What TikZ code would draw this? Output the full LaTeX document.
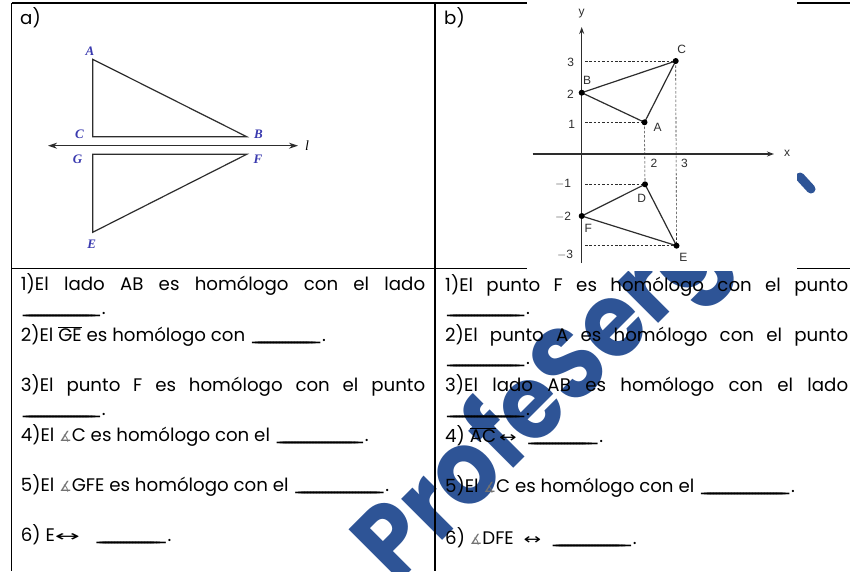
\documentclass[tikz,border=0pt]{standalone}
\usepackage{graphicx}
\usepackage{fontspec}
\setmainfont{Poppins}
\newfontfamily\symfont{DejaVu Sans}
\newfontfamily\grfont{Liberation Sans}
\newfontfamily\tmfont{Liberation Serif}
\usetikzlibrary{arrows.meta}
\definecolor{wmblue}{RGB}{46,84,150}
\definecolor{lblblue}{RGB}{58,58,175}
\definecolor{grdark}{RGB}{45,45,45}
\newcommand\blk[1]{\hbox to #1{\leaders\hbox to 3pt{\_\hss}\hfill\_}}
\newcommand\angsym{{\symfont\fontsize{14}{14}\selectfont\color{black!55}∡}}
\newcommand\lrsym[1]{\scalebox{#1}[1]{\symfont\fontsize{15}{15}\selectfont ↔}}
\newcommand\ovl[1]{$\overline{\hbox{#1}}$}
\begin{document}
\begin{tikzpicture}[x=1pt,y=-1pt,
  tline/.style={line width=1.1pt, black},
  txt/.style={anchor=base west, inner sep=0pt, font=\fontsize{18.2}{21}\selectfont},
  seg/.style={line width=1.2pt, grdark},
  dsh/.style={line width=0.6pt, grdark, dash pattern=on 2.5pt off 1.8pt},
  dot/.style={circle, fill=black, inner sep=0pt, minimum size=6pt},
  glbl/.style={inner sep=0pt, text=grdark, font=\grfont\fontsize{12}{12}\selectfont},
  albl/.style={inner sep=0pt, text=lblblue, font=\tmfont\itshape\bfseries\fontsize{13}{13}\selectfont},
  wmark/.style={inner sep=0pt, text=wmblue, rotate=45, xscale=0.9, font=\fontsize{104}{104}\selectfont\bfseries}
]
\useasboundingbox (0,0) rectangle (850,571);
\fill[white] (0,0) rectangle (850,571);

% watermark
\node[wmark] (wm) at (574,370) {ProfeSergio};
\coordinate (wt1) at (800,177);
\coordinate (wt2) at (811,189);
\draw[wmblue, line width=9pt, line cap=round] (wt1) -- (wt2);

% table lines
\coordinate (tl) at (11.5,3);
\coordinate (tr) at (850,3);
\coordinate (bl) at (11.5,571);
\coordinate (mt) at (435,3);
\coordinate (mb) at (435,571);
\coordinate (dl) at (11.5,268.5);
\coordinate (dr) at (850,268.5);
\draw[tline] (tl) -- (tr);
\draw[tline] (tl) -- (bl);
\draw[tline] (mt) -- (mb);
\draw[tline] (dl) -- (dr);

% panel a
\node[txt] (pa) at (20,24) {a)};
\coordinate (aA) at (92.7,59.3);
\coordinate (aC) at (92.7,136.7);
\coordinate (aB) at (246.7,136.7);
\coordinate (aG) at (92.7,154.3);
\coordinate (aF) at (246.7,154.3);
\coordinate (aE) at (92.7,232.3);
\coordinate (l1e) at (48,145.7);
\coordinate (l2e) at (298,145.7);
\draw[seg] (aA) -- (aC) -- (aB) -- cycle;
\draw[seg] (aG) -- (aF) -- (aE) -- cycle;
\draw[line width=1.1pt, grdark, {Stealth[length=9pt,width=6pt]}-{Stealth[length=9pt,width=6pt]}] (l1e) -- (l2e);
\node[albl] (labA) at (90,51) {A};
\node[albl] (labC) at (79.5,134.5) {C};
\node[albl] (labB) at (258.5,134.5) {B};
\node[albl] (labG) at (77.5,159) {G};
\node[albl] (labF) at (258,159) {F};
\node[albl] (labE) at (91.7,244) {E};
\node[inner sep=0pt, text=black, font=\tmfont\itshape\fontsize{14}{14}\selectfont] (labl) at (307,146) {l};

% panel b
\node[txt] (pb) at (444,24) {b)};
\fill[white] (527,-1) rectangle (797,270.5);
\coordinate (O) at (581.7,154);
\coordinate (yb) at (581.7,263);
\coordinate (yt) at (581.7,27);
\coordinate (xl) at (532.7,154);
\coordinate (xr) at (774,154);
\coordinate (bC) at (675.7,61);
\coordinate (bB) at (581.7,92.7);
\coordinate (bA) at (644.5,122.3);
\coordinate (bD) at (645,184.3);
\coordinate (bF) at (581.7,216);
\coordinate (bE) at (676.5,245.7);
\coordinate (yC) at (585,61);
\coordinate (yA) at (585,122.3);
\coordinate (yD) at (585,184.3);
\coordinate (yE) at (585,245.7);
\draw[dsh] (yC) -- (bC);
\draw[dsh] (yA) -- (bA);
\draw[dsh] (yD) -- (bD);
\draw[dsh] (yE) -- (bE);
\draw[dsh] (bC) -- (bE);
\draw[dsh] (bA) -- (bD);
\draw[line width=1.3pt, grdark, -{Stealth[length=7pt,width=5pt]}] (yb) -- (yt);
\draw[line width=1.3pt, grdark, -{Stealth[length=7pt,width=5pt]}] (xl) -- (xr);
\draw[seg] (bB) -- (bC) -- (bA) -- cycle;
\draw[seg] (bF) -- (bD) -- (bE) -- cycle;
\foreach \p in {bA,bB,bC,bD,bE,bF} \node[dot] at (\p) {};
\node[glbl] (ly) at (581.7,13.5) {y};
\node[glbl] (lx) at (787,153) {x};
\node[glbl] (t3) at (570.7,62.7) {3};
\node[glbl] (t2) at (570.5,94) {2};
\node[glbl] (t1) at (571.7,124) {1};
\node[glbl] (tm1) at (563,184.3) {$-$1};
\node[glbl] (tm2) at (563,216.5) {$-$2};
\node[glbl] (tm3) at (565,255) {$-$3};
\node[glbl] (tx2) at (654,163.3) {2};
\node[glbl] (tx3) at (684.5,163.3) {3};
\node[glbl] (nC) at (681.7,49.3) {C};
\node[glbl] (nB) at (587,80) {B};
\node[glbl] (nA) at (657.7,127.3) {A};
\node[glbl] (nD) at (641.7,198.3) {D};
\node[glbl] (nF) at (588.3,228.3) {F};
\node[glbl] (nE) at (683.3,257.7) {E};

% left column text
\node[txt] (L1) at (20.7,290) {\hbox to 404.3pt{1)El\hfill lado\hfill AB\hfill es\hfill homólogo\hfill con\hfill el\hfill lado}};
\node[txt] (L2) at (20.7,314) {\blk{81pt}.};
\node[txt] (L3) at (20.7,341) {2)El \ovl{GE} es homólogo con \blk{72pt}.};
\node[txt] (L4) at (20.7,391) {\hbox to 404.3pt{3)El\hfill punto\hfill F\hfill es\hfill homólogo\hfill con\hfill el\hfill punto}};
\node[txt] (L5) at (20.7,415) {\blk{81pt}.};
\node[txt] (L6) at (20.7,441) {4)El \angsym C es homólogo con el \blk{90pt}.};
\node[txt] (L7) at (20.7,491) {5)El \angsym GFE es homólogo con el \blk{92pt}.};
\node[txt] (L8) at (20.7,541) {6) E\lrsym{2}\ \ \ \blk{73pt}.};

% right column text
\node[txt] (R1) at (445,291) {\hbox to 403pt{1)El\hfill punto\hfill F\hfill es\hfill homólogo\hfill con\hfill el\hfill punto}};
\node[txt] (R2) at (445,314) {\blk{81pt}.};
\node[txt] (R3) at (445,341) {\hbox to 403pt{2)El\hfill punto\hfill A\hfill es\hfill homólogo\hfill con\hfill el\hfill punto}};
\node[txt] (R4) at (445,364) {\blk{81pt}.};
\node[txt] (R5) at (445,391) {\hbox to 403pt{3)El\hfill lado\hfill AB\hfill es\hfill homólogo\hfill con\hfill el\hfill lado}};
\node[txt] (R6) at (445,415) {\blk{81pt}.};
\node[txt] (R7) at (445,442) {4)\ \ovl{AC}\,\lrsym{1.4}\ \ \blk{73pt}.};
\node[txt] (R8) at (445,492.5) {5)El \angsym C es homólogo con el \blk{92pt}.};
\node[txt] (R9) at (445,544) {6) \angsym DFE\ \ \lrsym{1.4}\ \ \blk{82pt}.};
\end{tikzpicture}
\end{document}
